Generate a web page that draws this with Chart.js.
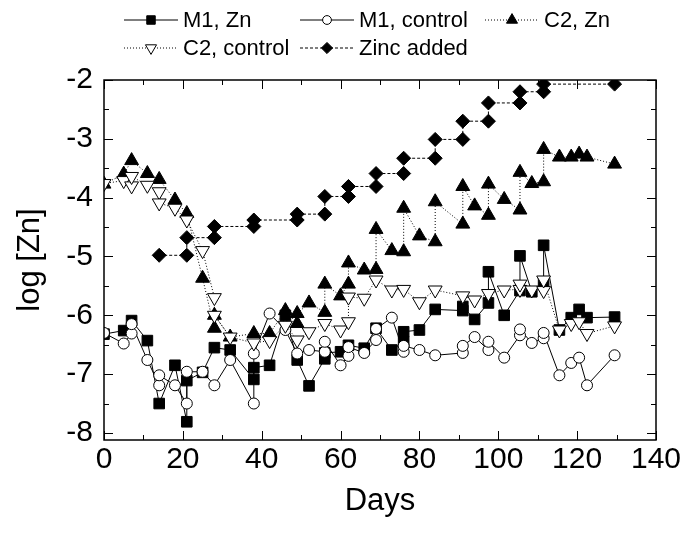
<!DOCTYPE html>
<html>
<head>
<meta charset="utf-8">
<script src="https://cdn.jsdelivr.net/npm/chart.js@4.4.0/dist/chart.umd.min.js"></script>
<style>
  html, body { margin: 0; padding: 0; background: #fff; }
  #wrap { width: 686px; height: 534px; }
</style>
</head>
<body>
<div id="wrap"><canvas id="chart" width="686" height="534"></canvas></div>
<script>
var FONT = '"Liberation Sans", Arial, sans-serif';

// sampling days (a repeated day = sample before / after a zinc dose)
var m1ZnDays = [0, 5, 7, 11, 14, 18, 21, 21, 25, 28, 32, 38, 38, 42, 46, 49, 52, 56, 56, 60, 62, 66, 69, 73, 76, 76, 80, 84, 91, 91, 94, 97.5, 97.5, 101.5, 105.5, 105.5, 108.5, 111.5, 111.5, 115.5, 118.5, 120.5, 122.5, 129.5];
var m1ZnLog  = [-6.32, -6.26, -6.09, -6.43, -7.50, -6.85, -7.81, -7.11, -6.97, -6.55, -6.59, -7.09, -6.89, -6.85, -6.00, -6.76, -7.20, -6.74, -6.64, -6.62, -6.51, -6.56, -6.22, -6.59, -6.45, -6.28, -6.25, -5.90, -5.92, -5.85, -6.07, -5.79, -5.26, -6.00, -5.58, -4.99, -5.60, -5.43, -4.81, -6.25, -6.04, -5.90, -6.04, -6.03];

var m1CtrlDays = [0, 5, 7, 7, 11, 14, 14, 18, 21, 21, 25, 28, 32, 38, 38, 42, 46, 49, 52, 56, 56, 60, 62, 62, 66, 69, 69, 73, 76, 76, 80, 84, 91, 91, 94, 97.5, 97.5, 101.5, 105.5, 105.5, 108.5, 111.5, 111.5, 115.5, 118.5, 120.5, 122.5, 129.5];
var m1CtrlLog  = [-6.30, -6.48, -6.31, -6.15, -6.76, -7.19, -7.02, -7.19, -7.50, -6.96, -6.96, -7.19, -6.76, -7.50, -6.65, -5.97, -6.25, -6.65, -6.59, -6.62, -6.45, -6.85, -6.69, -6.54, -6.64, -6.42, -6.23, -6.04, -6.62, -6.52, -6.59, -6.68, -6.64, -6.52, -6.37, -6.59, -6.45, -6.72, -6.34, -6.24, -6.47, -6.39, -6.30, -7.02, -6.81, -6.72, -7.19, -6.68];

var c2ZnDays = [0, 5, 7, 11, 14, 18, 21, 25, 28, 28, 32, 38, 42, 46, 49, 49, 52, 56, 56, 60, 62, 62, 66, 69, 69, 73, 76, 76, 80, 84, 84, 91, 91, 94, 97.5, 97.5, 101.5, 105.5, 105.5, 108.5, 111.5, 111.5, 115.5, 118.5, 120.5, 122.5, 129.5];
var c2ZnLog  = [-3.77, -3.60, -3.37, -3.59, -3.69, -4.04, -4.27, -5.37, -6.22, -6.00, -6.37, -6.31, -6.31, -5.92, -6.14, -5.97, -5.79, -5.95, -5.47, -5.67, -5.47, -5.11, -5.23, -5.22, -4.54, -4.90, -4.92, -4.18, -4.65, -4.75, -4.07, -4.45, -3.81, -4.14, -4.30, -3.77, -4.03, -4.21, -3.57, -3.76, -3.73, -3.18, -3.31, -3.31, -3.26, -3.31, -3.43];

var c2CtrlDays = [0, 5, 7, 7, 11, 14, 14, 18, 21, 25, 28, 28, 32, 38, 42, 46, 49, 52, 56, 60, 62, 62, 66, 69, 73, 76, 80, 84, 91, 94, 97.5, 101.5, 105.5, 105.5, 108.5, 111.5, 111.5, 115.5, 118.5, 120.5, 122.5, 129.5];
var c2CtrlLog  = [-3.76, -3.71, -3.80, -3.64, -3.79, -3.90, -4.09, -4.18, -4.38, -4.90, -5.70, -6.00, -6.37, -6.47, -6.43, -6.17, -6.42, -6.28, -6.14, -6.25, -6.11, -5.69, -5.71, -5.40, -5.57, -5.56, -5.77, -5.57, -5.67, -5.74, -5.63, -5.57, -5.56, -5.47, -5.57, -5.58, -5.40, -6.25, -6.14, -6.11, -6.31, -6.18];

var zincDays = [14, 21, 21, 28, 28, 38, 38, 49, 49, 56, 56, 62, 62, 69, 69, 76, 76, 84, 84, 91, 91, 97.5, 97.5, 105.5, 105.5, 111.5, 111.5, 129.5];
var zincLog  = [-4.98, -4.98, -4.68, -4.68, -4.49, -4.49, -4.38, -4.38, -4.28, -4.28, -3.98, -3.98, -3.81, -3.81, -3.59, -3.59, -3.33, -3.33, -3.01, -3.01, -2.70, -2.70, -2.39, -2.39, -2.20, -2.20, -2.07, -2.07];

var seriesNames = ['M1, Zn', 'M1, control', 'C2, Zn', 'C2, control', 'Zinc added'];

function pts(days, vals) {
  return days.map(function(d, i) { return {x: d, y: vals[i]}; });
}

function makeSet(label, days, vals, style, fill, dash, radius, rot, order) {
  return {
    label: label,
    data: pts(days, vals),
    showLine: true,
    borderColor: '#000',
    borderWidth: 1,
    borderDash: dash,
    pointStyle: style,
    pointRotation: rot,
    pointRadius: radius,
    pointHoverRadius: radius,
    pointBackgroundColor: fill,
    pointBorderColor: '#000',
    pointBorderWidth: 1,
    order: order
  };
}

var datasets = [
  makeSet(seriesNames[0], m1ZnDays, m1ZnLog, 'rect', '#000', [], 7.5, 0, 5),
  makeSet(seriesNames[1], m1CtrlDays, m1CtrlLog, 'circle', '#fff', [], 5.5, 0, 4),
  makeSet(seriesNames[2], c2ZnDays, c2ZnLog, 'triangle', '#000', [1, 2], 8, 0, 3),
  makeSet(seriesNames[3], c2CtrlDays, c2CtrlLog, 'triangle', '#fff', [1, 2], 8, 180, 2),
  makeSet(seriesNames[4], zincDays, zincLog, 'rectRot', '#000', [3, 2], 7, 0, 1)
];

// box frame with inward ticks on all four sides
var frame = {
  id: 'frame',
  afterDatasetsDraw: function(chart) {
    var ctx = chart.ctx, a = chart.chartArea;
    var xs = chart.scales.x, ys = chart.scales.y;
    ctx.save();
    ctx.strokeStyle = '#000';
    ctx.lineWidth = 1.5;
    ctx.strokeRect(a.left, a.top, a.right - a.left, a.bottom - a.top);
    ctx.lineWidth = 1;
    ctx.beginPath();
    xs.ticks.forEach(function(t) {
      var px = Math.round(xs.getPixelForValue(t.value)) + 0.5;
      var len = t.value % 20 === 0 ? 9 : 5;
      ctx.moveTo(px, a.bottom); ctx.lineTo(px, a.bottom - len);
      ctx.moveTo(px, a.top); ctx.lineTo(px, a.top + len);
    });
    ys.ticks.forEach(function(t) {
      if (Math.abs(t.value * 2 - Math.round(t.value * 2)) > 1e-6) return;
      var py = Math.round(ys.getPixelForValue(t.value)) + 0.5;
      var len = Number.isInteger(t.value) ? 9 : 5;
      ctx.moveTo(a.left, py); ctx.lineTo(a.left + len, py);
      ctx.moveTo(a.right, py); ctx.lineTo(a.right - len, py);
    });
    ctx.stroke();
    ctx.restore();
  },
  afterDraw: function(chart) {
    // two-row legend, left aligned like the original
    var ctx = chart.ctx;
    var spots = [[124, 20], [300, 20], [485, 20], [124, 48], [300, 48]];
    ctx.save();
    chart.data.datasets.forEach(function(ds, i) {
      var x = spots[i][0], y = spots[i][1];
      ctx.strokeStyle = '#000';
      ctx.lineWidth = 1;
      ctx.setLineDash(ds.borderDash);
      ctx.beginPath();
      ctx.moveTo(x, y); ctx.lineTo(x + 54, y);
      ctx.stroke();
      ctx.setLineDash([]);
      ctx.fillStyle = ds.pointBackgroundColor;
      Chart.helpers.drawPoint(ctx, {
        pointStyle: ds.pointStyle, rotation: ds.pointRotation,
        radius: ds.pointRadius * 0.8, borderWidth: 1
      }, x + 27, y);
      ctx.fillStyle = '#000';
      ctx.font = '22px ' + FONT;
      ctx.textBaseline = 'middle';
      ctx.fillText(ds.label, x + 59, y + 1);
    });
    ctx.restore();
  }
};

new Chart(document.getElementById('chart'), {
  type: 'scatter',
  data: { datasets: datasets },
  options: {
    responsive: false,
    animation: false,
    layout: { padding: { top: 80, right: 30, left: 0, bottom: 0 } },
    plugins: { legend: { display: false }, tooltip: { enabled: false } },
    scales: {
      x: {
        type: 'linear', min: 0, max: 140,
        grid: { display: false, drawTicks: false },
        border: { display: false },
        ticks: {
          stepSize: 10, autoSkip: false, maxRotation: 0, padding: 2, color: '#000',
          font: { family: FONT, size: 30 },
          callback: function(v) { return v % 20 === 0 ? String(v) : ''; }
        },
        title: { display: true, text: 'Days', color: '#000', font: { family: FONT, size: 31 }, padding: { top: 0, bottom: 14 } },
        afterFit: function(s) { s.height = 94; }
      },
      y: {
        type: 'linear', min: -8.12, max: -2,
        grid: { display: false, drawTicks: false },
        border: { display: false },
        ticks: {
          stepSize: 0.5, autoSkip: false, includeBounds: false, padding: 11, color: '#000',
          font: { family: FONT, size: 30 },
          callback: function(v) { return Number.isInteger(v) ? String(v) : ''; }
        },
        title: { display: true, text: 'log [Zn]', color: '#000', font: { family: FONT, size: 31 }, padding: { top: 12, bottom: 0 } },
        afterFit: function(s) { s.width = 104; }
      }
    }
  },
  plugins: [frame]
});
</script>
</body>
</html>
